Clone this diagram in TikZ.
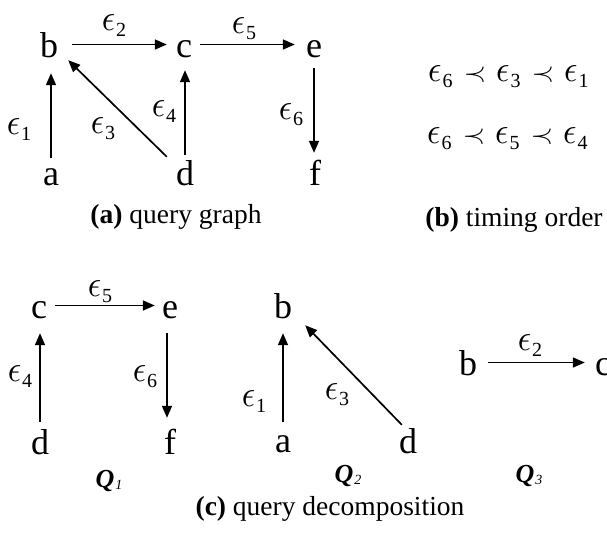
\documentclass[tikz,border=0pt]{standalone}
\usepackage{graphicx}
\usepackage{fontspec}
\setmainfont{Liberation Serif}
\usetikzlibrary{arrows.meta}
\newcommand\ep[1]{{\fontsize{10}{12}\selectfont\scalebox{3.3}[3.7]{$\epsilon$}}\kern1pt\raisebox{-6pt}{\fontsize{20}{20}\selectfont #1}}
\newcommand\pr{{\fontsize{10}{12}\selectfont\scalebox{2.9}[2.7]{$\prec$}}}
\newcommand\qq[1]{{\bfseries\itshape Q}\kern1pt\raisebox{-2pt}{\fontsize{14}{14}\selectfont\itshape #1}}
\begin{document}
\begin{tikzpicture}[x=1pt,y=-1pt,
  v/.style={font=\fontsize{36}{36}\selectfont, inner sep=0pt, text height=25pt, text depth=0pt, anchor=base},
  lab/.style={inner sep=0pt},
  arr/.style={line width=1.7pt, -{Triangle[length=12pt,width=10pt]}},
  captxt/.style={font=\fontsize{27.5}{27.5}\selectfont, anchor=base, inner sep=0pt},
  ql/.style={font=\fontsize{26}{26}\selectfont, inner sep=0pt}]
\useasboundingbox (0,0) rectangle (607,538);
% (a) query graph
\node[v] (b) at (49,57) {b};
\node[v] (c) at (184,57) {c};
\node[v] (e) at (314,57) {e};
\node[v] (a) at (51,185) {a};
\node[v] (d) at (185,185) {d};
\node[v] (f) at (315,185) {f};
\draw[arr, shorten <=14pt, shorten >=9pt] (b) -- (c);
\draw[arr, shorten <=8pt, shorten >=11pt] (c) -- (e);
\draw[arr, shorten <=2pt, shorten >=16pt] (a.north) -- (a.north |- b.south);
\draw[arr, shorten <=5pt, shorten >=13pt] (d.north) -- (d.north |- c.south);
\draw[arr, shorten <=11pt, shorten >=7pt] (e.south) -- (e.south |- f.north);
\draw[arr] ([shift={(-9,-3)}]d.north west) -- ([shift={(10,3)}]b.south east);
\node[lab] (l2) at (114,26) {\ep{2}};
\node[lab] (l5) at (244,29) {\ep{5}};
\node[lab] (l1) at (19,130) {\ep{1}};
\node[lab] (l3) at (103,129) {\ep{3}};
\node[lab] (l4) at (164,112) {\ep{4}};
\node[lab] (l6) at (291,115) {\ep{6}};
\node[captxt] (capa) at (176,223) {\textbf{(a)} query graph};
% (b) timing order
\node[lab, anchor=base west] (t1) at (428,81) {\ep{6}\hspace{11pt}\pr\hspace{10pt}\ep{3}\hspace{11pt}\pr\hspace{10pt}\ep{1}};
\node[lab, anchor=base west] (t2) at (427,143) {\ep{6}\hspace{11pt}\pr\hspace{10pt}\ep{5}\hspace{11pt}\pr\hspace{10pt}\ep{4}};
\node[captxt] (capb) at (514,226) {\textbf{(b)} timing order};
% Q1
\node[v] (qc) at (39,318) {c};
\node[v] (qe) at (170,318) {e};
\node[v] (qd) at (40,454) {d};
\node[v] (qf) at (170,454) {f};
\draw[arr, shorten <=8pt, shorten >=7pt] (qc) -- (qe);
\draw[arr, shorten <=7pt, shorten >=15pt] (qd.north) -- (qd.north |- qc.south);
\draw[arr, shorten <=15pt, shorten >=11pt] ([xshift=-3pt]qe.south) -- ([xshift=-3pt]qe.south |- qf.north);
\node[lab] (m5) at (100,292) {\ep{5}};
\node[lab] (m4) at (20,377) {\ep{4}};
\node[lab] (m6) at (145,377) {\ep{6}};
\node[ql] (Q1) at (109,481) {\qq{1}};
% Q2
\node[v] (rb) at (283,318) {b};
\node[v] (ra) at (283,452) {a};
\node[v] (rd) at (408,453) {d};
\draw[arr, shorten <=5pt, shorten >=15pt] (ra.north) -- (ra.north |- rb.south);
\draw[arr] ([shift={(3,-3)}]rd.north west) -- ([shift={(13,7)}]rb.south east);
\node[lab] (n1) at (254,402) {\ep{1}};
\node[lab] (n3) at (337,395) {\ep{3}};
\node[ql] (Q2) at (348,476) {\qq{2}};
% Q3
\node[v] (sb) at (468,375) {b};
\node[v] (sc) at (603,375) {c};
\draw[arr, shorten <=11pt, shorten >=10pt] (sb) -- (sc);
\node[lab] (o2) at (530,346) {\ep{2}};
\node[ql] (Q3) at (529,476) {\qq{3}};
\node[captxt] (capc) at (330,515) {\textbf{(c)} query decomposition};
\end{tikzpicture}
\end{document}
